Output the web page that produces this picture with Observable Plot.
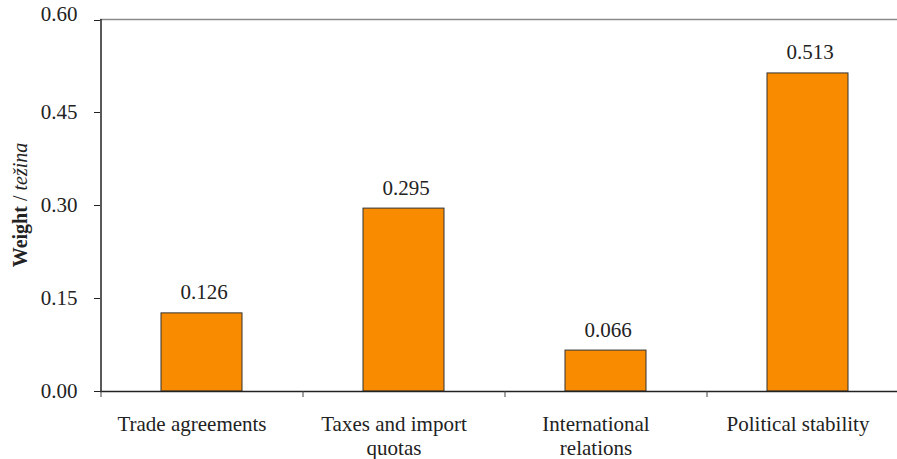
<!DOCTYPE html>
<html>
<head>
<meta charset="utf-8">
<script src="https://cdn.jsdelivr.net/npm/d3@7"></script>
<script src="https://cdn.jsdelivr.net/npm/@observablehq/plot@0.6"></script>
<style>
  html, body { margin: 0; padding: 0; background: #fff; }
  #chart svg { display: block; }
  #chart svg, #chart svg text, #chart svg tspan { font-family: "Liberation Serif", "Times New Roman", serif !important; }
</style>
</head>
<body>
<div id="chart"></div>
<script>
const categories = ["Trade agreements", "Taxes and import quotas", "International relations", "Political stability"];
const tickLabels = ["Trade agreements", "Taxes and import\nquotas", "International\nrelations", "Political stability"];
const values = [0.126, 0.295, 0.066, 0.513];
const yTicks = [0, 0.15, 0.30, 0.45];
const yTopTick = [0.60];

const data = categories.map((c, i) => ({category: c, value: values[i]}));
const labelOf = new Map(categories.map((c, i) => [c, tickLabels[i]]));

const font = "Liberation Serif";
const ink = "#222";

const xOpts = {type: "band", domain: categories, range: [100, 908], paddingInner: 0.6, paddingOuter: 0.3};
const xs = Plot.scale({x: xOpts});
const half = xs.step / 2;

const chart = Plot.plot({
  width: 897,
  height: 459,
  marginLeft: 100,
  marginRight: 0,
  marginTop: 19,
  marginBottom: 68,
  style: {fontFamily: font, fontSize: "20px", color: ink, background: "#fff"},
  x: xOpts,
  y: {domain: [0, 0.6], range: [391, 19]},
  marks: [
    Plot.ruleY([0.6], {stroke: "#8a8a8a", strokeWidth: 1.5}),
    Plot.barY(data, {x: "category", y: "value", fill: "#F98B00", stroke: "#333", strokeWidth: 1}),
    Plot.text(data, {x: "category", y: "value", text: d => d.value.toFixed(3), dx: 2, dy: -14, lineAnchor: "bottom", fill: ink, fontSize: 21, fontFamily: font}),
    Plot.ruleY([0], {stroke: "#222", strokeWidth: 1.5}),
    Plot.ruleX([categories[0]], {x: d => d, y1: 0, y2: 0.6, dx: -half, stroke: "#222", strokeWidth: 1.5}),
    Plot.ruleX(categories, {x: d => d, y1: 0, y2: 0, dx: -half, insetTop: 6, stroke: "#444", strokeWidth: 1}),
    Plot.axisY({ticks: yTicks, tickFormat: d3.format(".2f"), tickSize: 6, tickPadding: 17, fontSize: 21, fontFamily: font, fill: ink, stroke: "#222", label: null}),
    Plot.axisY({ticks: yTopTick, tickFormat: d3.format(".2f"), tickSize: 6, tickPadding: 17, fontSize: 21, fontFamily: font, fill: ink, stroke: "#222", lineAnchor: "bottom", dy: 1, label: null}),
    Plot.axisX({tickSize: 0, tickPadding: 22, dx: -10, tickFormat: d => labelOf.get(d), fontSize: 21, fontFamily: font, lineHeight: 1.15, fill: ink, label: null})
  ]
});

// y-axis title with bold and italic parts
const svg = d3.select(chart);
const yTitle = svg.append("text")
  .attr("transform", `translate(27,${(391 + 19) / 2}) rotate(-90)`)
  .attr("text-anchor", "middle")
  .attr("fill", ink)
  .attr("font-family", font)
  .attr("font-size", 20);
yTitle.append("tspan").attr("font-weight", "bold").text("Weight");
yTitle.append("tspan").text(" / ");
yTitle.append("tspan").attr("font-style", "italic").text("težina");

document.getElementById("chart").appendChild(chart);
</script>
</body>
</html>
